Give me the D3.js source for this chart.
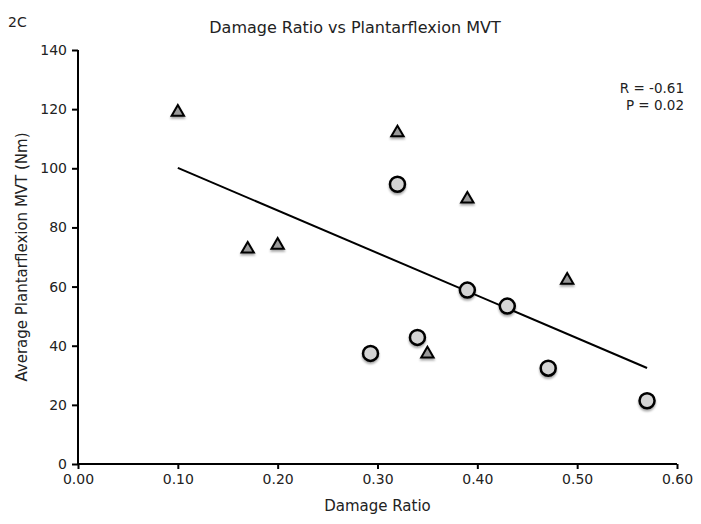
<!DOCTYPE html>
<html>
<head>
<meta charset="utf-8">
<script src="https://cdn.jsdelivr.net/npm/d3@7"></script>
<style>
  html, body { margin: 0; padding: 0; background: #fff; }
  svg text { font-family: "DejaVu Sans", "Liberation Sans", sans-serif; fill: #222; }
</style>
</head>
<body>
<svg id="chart" width="701" height="524"></svg>
<script>
// Data
const triangleX = [0.10, 0.17, 0.20, 0.32, 0.39, 0.35, 0.49];
const triangleY = [119, 72.7, 74, 112, 89.6, 37.2, 62.2];
const circleX = [0.32, 0.293, 0.34, 0.39, 0.43, 0.471, 0.57];
const circleY = [94.6, 37.4, 42.8, 58.8, 53.4, 32.4, 21.4];
const xTicks = [0, 0.1, 0.2, 0.3, 0.4, 0.5, 0.6];
const yTicks = [0, 20, 40, 60, 80, 100, 120, 140];
const statsLines = ["R = -0.61", "P = 0.02"];
const titleText = "Damage Ratio vs Plantarflexion MVT";
const panelLabel = "2C";
const xTitle = "Damage Ratio";
const yTitle = "Average Plantarflexion MVT (Nm)";

const svg = d3.select("#chart");
const pL = 78, pR = 677, pT = 50, pB = 464;

const x = d3.scaleLinear().domain([0, 0.6]).range([pL, pR]);
const y = d3.scaleLinear().domain([0, 140]).range([pB, pT]);

// drop shadow filter
const defs = svg.append("defs");
const f = defs.append("filter").attr("id", "shadow").attr("x", "-50%").attr("y", "-50%").attr("width", "200%").attr("height", "200%");
f.append("feDropShadow").attr("dx", 0).attr("dy", 2).attr("stdDeviation", 1.3).attr("flood-color", "#000").attr("flood-opacity", 0.35);

// axes
const xAxis = svg.append("g").attr("transform", `translate(0,${pB})`)
  .call(d3.axisBottom(x).tickValues(xTicks).tickFormat(d3.format(".2f")).tickSize(5).tickSizeOuter(0));
const yAxis = svg.append("g").attr("transform", `translate(${pL},0)`)
  .call(d3.axisLeft(y).tickValues(yTicks).tickFormat(d3.format("d")).tickSize(6).tickSizeOuter(0));
[xAxis, yAxis].forEach(g => {
  g.select(".domain").attr("stroke", "#000").attr("stroke-width", 2);
  g.selectAll(".tick line").attr("stroke", "#000").attr("stroke-width", 2);
  g.selectAll(".tick text").attr("font-size", 14).attr("fill", "#222");
});
xAxis.selectAll(".tick text").attr("dy", "0.71em").attr("y", 10);
yAxis.selectAll(".tick text").attr("x", -11);
xAxis.select(".domain").attr("d", `M${pL - 1},0H${pR}`);
yAxis.select(".domain").attr("d", `M0,${pT}V${pB + 1}`);

// trend line via least squares
const allX = triangleX.concat(circleX);
const allY = triangleY.concat(circleY);
const mx = d3.mean(allX), my = d3.mean(allY);
const sxy = d3.sum(allX, (v, i) => (v - mx) * (allY[i] - my));
const sxx = d3.sum(allX, v => (v - mx) * (v - mx));
const slope = sxy / sxx, intercept = my - slope * mx;
const [x0, x1] = d3.extent(allX);
svg.append("line")
  .attr("x1", x(x0)).attr("y1", y(intercept + slope * x0))
  .attr("x2", x(x1)).attr("y2", y(intercept + slope * x1))
  .attr("stroke", "#000").attr("stroke-width", 2);

// triangles
const tri = d3.symbol().type(d3.symbolTriangle).size(66);
svg.append("g").selectAll("path").data(triangleX.map((v, i) => [v, triangleY[i]]))
  .join("path")
  .attr("d", tri)
  .attr("transform", d => `translate(${x(d[0])},${y(d[1])})`)
  .attr("fill", "#9a9a9a").attr("stroke", "#000").attr("stroke-width", 2)
  .attr("filter", "url(#shadow)");

// circles
svg.append("g").selectAll("circle").data(circleX.map((v, i) => [v, circleY[i]]))
  .join("circle")
  .attr("cx", d => x(d[0])).attr("cy", d => y(d[1])).attr("r", 7.5)
  .attr("fill", "#d4d4d4").attr("stroke", "#000").attr("stroke-width", 2.5)
  .attr("filter", "url(#shadow)");

// texts
svg.append("text").attr("x", 8).attr("y", 27).attr("font-size", 14).text(panelLabel);
svg.append("text").attr("x", 355).attr("y", 33).attr("text-anchor", "middle").attr("font-size", 16).text(titleText);
svg.append("text").attr("x", (pL + pR) / 2).attr("y", 511).attr("text-anchor", "middle").attr("font-size", 15).text(xTitle);
svg.append("text").attr("transform", `translate(27,${(pT + pB) / 2}) rotate(-90)`)
  .attr("text-anchor", "middle").attr("font-size", 15).text(yTitle);
svg.append("g").selectAll("text").data(statsLines).join("text")
  .attr("x", 684).attr("y", (d, i) => 93 + i * 17)
  .attr("text-anchor", "end").attr("font-size", 13.5).text(d => d);
</script>
</body>
</html>
